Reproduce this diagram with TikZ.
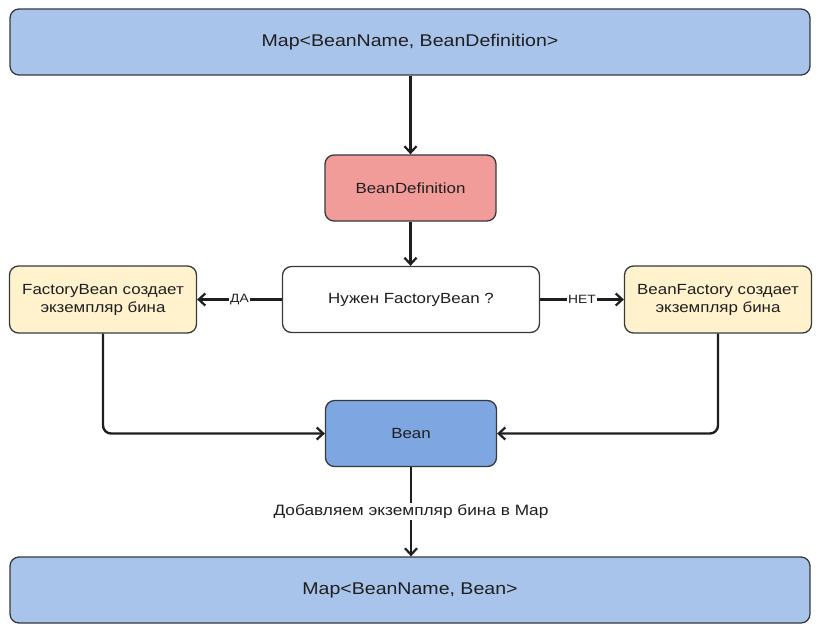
\documentclass[tikz,border=0pt]{standalone}
\usepackage{fontspec}
\setmainfont[FakeStretch=1.15]{Liberation Sans}
\usetikzlibrary{arrows.meta}
\definecolor{mapblue}{HTML}{A9C4EB}
\definecolor{defred}{HTML}{F19C99}
\definecolor{factyellow}{HTML}{FFF2CC}
\definecolor{beanblue}{HTML}{7EA6E0}
\definecolor{edgegray}{HTML}{36393D}
\definecolor{linedark}{HTML}{1E1E1E}
\tikzset{
  box/.style={draw=edgegray, line width=1.3pt, rounded corners=9pt, inner sep=0pt, align=center, text=black!88},
  bigbox/.style={box, fill=mapblue, minimum width=800pt, minimum height=66pt, font=\fontsize{17}{20}\selectfont},
  smallbox/.style={box, minimum width=171pt, minimum height=66pt, font=\fontsize{14.7}{18}\selectfont},
  sidebox/.style={box, fill=factyellow, minimum width=187pt, minimum height=67pt, font=\fontsize{14.7}{18}\selectfont},
  conn/.style={draw=linedark, line width=2.4pt, -{Straight Barb[length=6.5pt,width=12pt,line width=2.2pt]}},
  edgelabel/.style={fill=white, inner sep=1.5pt, text=black!88}
}
\begin{document}
\begin{tikzpicture}[x=1pt,y=-1pt]
\useasboundingbox (0,0) rectangle (821,635);
\node[bigbox] (top) at (410,42) {Map<BeanName, BeanDefinition>};
\node[smallbox, fill=defred] (def) at (410.5,188) {BeanDefinition};
\node[smallbox, fill=white, minimum width=257pt] (q) at (411,299.5) {Нужен FactoryBean ?};
\node[sidebox] (fb) at (103,299.5) {FactoryBean создает\\экземпляр бина};
\node[sidebox] (bf) at (718,299.5) {BeanFactory создает\\экземпляр бина};
\node[smallbox, fill=beanblue] (bean) at (411,433.5) {Bean};
\node[bigbox] (bot) at (410,590) {Map<BeanName, Bean>};

\draw[conn] (top.south -| def.north) -- (def.north);
\draw[conn] (def.south) -- (def.south |- q.north);
\draw[conn] (q.west) -- node[edgelabel, font=\fontsize{12}{14}\selectfont] {ДА} (fb.east);
\draw[conn] (q.east) -- node[edgelabel, font=\fontsize{12}{14}\selectfont] {НЕТ} (bf.west);
\draw[conn, rounded corners=8pt] (fb.south) |- (bean.west);
\draw[conn, rounded corners=8pt] (bf.south) |- (bean.east);
\draw[conn] (bean.south) -- node[edgelabel, font=\fontsize{15}{18}\selectfont, pos=0.5] {Добавляем экземпляр бина в Map} (bean.south |- bot.north);
\end{tikzpicture}
\end{document}
